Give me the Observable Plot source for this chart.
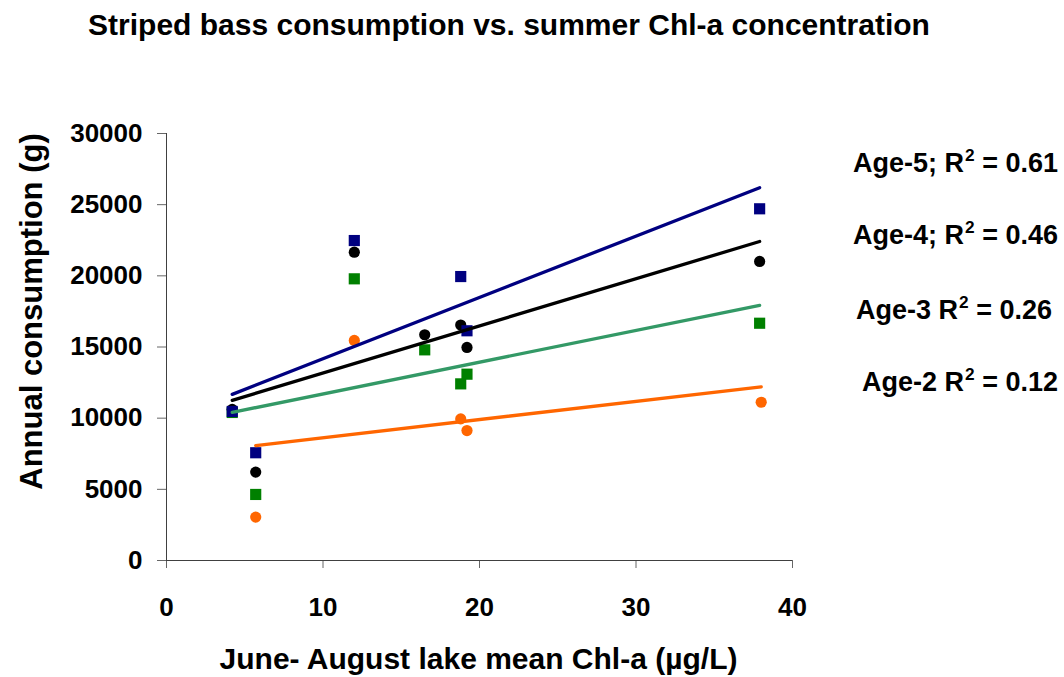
<!DOCTYPE html>
<html>
<head>
<meta charset="utf-8">
<script src="https://cdn.jsdelivr.net/npm/d3@7"></script>
<script src="https://cdn.jsdelivr.net/npm/@observablehq/plot@0.6"></script>
<style>
  html, body { margin: 0; padding: 0; background: #fff; }
  #wrap { position: relative; width: 1064px; height: 677px; overflow: hidden;
          font-family: "Liberation Sans", Arial, sans-serif; font-weight: bold; color: #000; }
  #title { height: 70px; position: relative; }
  #title span { position: absolute; left: 0; width: 1018px; top: 10px; text-align: center;
                font-size: 30px; line-height: 1; white-space: nowrap; }
  .abs { position: absolute; line-height: 1; white-space: nowrap; }
  .ann { font-size: 27px; text-align: right; }
  .ann .sup { font-size: 0.64em; position: relative; top: -0.62em; margin-left: 1px; }
  #chart svg { display: block; }
</style>
</head>
<body>
<div id="wrap">
  <div id="title"><span>Striped bass consumption vs. summer Chl-a concentration</span></div>
  <div id="chart"></div>
</div>
<script>
// ---- data ----
const seriesNames = ["Age-2", "Age-3", "Age-4", "Age-5"];
const chlAge2 = [5.7, 12.0, 18.8, 19.2, 38.0];
const consAge2 = [3050, 15460, 9950, 9130, 11120];
const chlAge3 = [4.2, 5.7, 12.0, 16.5, 18.8, 19.2, 37.9];
const consAge3 = [10400, 4640, 19790, 14800, 12410, 13090, 16670];
const chlAge4 = [4.2, 5.7, 12.0, 16.5, 18.8, 19.2, 37.9];
const consAge4 = [10620, 6210, 21660, 15860, 16540, 14970, 21010];
const chlAge5 = [4.2, 5.7, 12.0, 18.8, 19.2, 37.9];
const consAge5 = [10470, 7570, 22480, 19950, 16140, 24710];
const r2Labels = ["Age-2 R", "Age-3 R", "Age-4; R", "Age-5; R"];
const r2Values = ["0.12", "0.26", "0.46", "0.61"];
const xTicks = [0, 10, 20, 30, 40];
const yTicks = [0, 5000, 10000, 15000, 20000, 25000, 30000];

// ---- styles ----
const markerFill = ["#FF6600", "#008000", "#000000", "#000080"];
const lineColor = ["#FF6600", "#339966", "#000000", "#000080"];
const symbols = ["circle", "square", "circle", "square"];
const radius = [5.6, 6.3, 5.6, 6.3];

const xs = [chlAge2, chlAge3, chlAge4, chlAge5];
const ys = [consAge2, consAge3, consAge4, consAge5];
const tables = seriesNames.map((s, i) => xs[i].map((x, j) => ({series: s, chl: x, cons: ys[i][j]})));

const dotMarks = tables.map((t, i) =>
  Plot.dot(t, {x: "chl", y: "cons", symbol: () => symbols[i], r: radius[i], fill: markerFill[i], stroke: "none"}));
const lineMarks = tables.map((t, i) =>
  Plot.linearRegressionY(t, {x: "chl", y: "cons", stroke: lineColor[i], strokeWidth: 3.3, ci: 0}));

const chart = Plot.plot({
  width: 1064,
  height: 607,
  marginTop: 63,
  marginLeft: 166,
  marginRight: 272,
  marginBottom: 117,
  x: {domain: [0, 40]},
  y: {domain: [0, 30000]},
  symbol: {type: "identity"},
  style: {fontFamily: "'Liberation Sans', Arial, sans-serif", fontSize: "26px", fontWeight: "bold", color: "#000", background: "#fff"},
  marks: [
    Plot.axisY({ticks: yTicks, tickSize: 9, tickPadding: 15, tickFormat: d3.format("d"), label: null, stroke: "#666", fontSize: 26}),
    Plot.axisX({ticks: xTicks, tickSize: 8, tickPadding: 29, tickFormat: d3.format("d"), label: null, stroke: "#666", fontSize: 26}),
    Plot.ruleX([0], {stroke: "#404040"}),
    Plot.ruleY([0], {stroke: "#404040"}),
    ...dotMarks,
    ...lineMarks
  ]
});
document.getElementById("chart").appendChild(chart);

// ---- axis titles & R² annotations ----
const wrap = document.getElementById("wrap");
function addText(cls, html, css) {
  const d = document.createElement("div");
  d.className = "abs " + cls;
  d.innerHTML = html;
  Object.assign(d.style, css);
  wrap.appendChild(d);
  return d;
}
// x-axis title
addText("", "June- August lake mean Chl-a (µg/L)", {fontSize: "30px", left: "0px", width: "957px", textAlign: "center", top: "643.6px"});
// y-axis title (rotated)
addText("", "Annual consumption (g)", {fontSize: "31px", width: "400px", textAlign: "center",
  left: (30.8 - 200) + "px", top: (311 - 15.5) + "px", transform: "rotate(-90deg)", transformOrigin: "50% 50%", height: "31px"});
// R² annotations
const annBaselines = [392, 320, 245, 173];
const annRight = [6, 12, 6, 6];
seriesNames.forEach((s, i) => {
  addText("ann", r2Labels[i] + '<span class="sup">2</span> = ' + r2Values[i],
    {right: annRight[i] + "px", top: (annBaselines[i] - 0.8465 * 27) + "px"});
});
</script>
</body>
</html>
